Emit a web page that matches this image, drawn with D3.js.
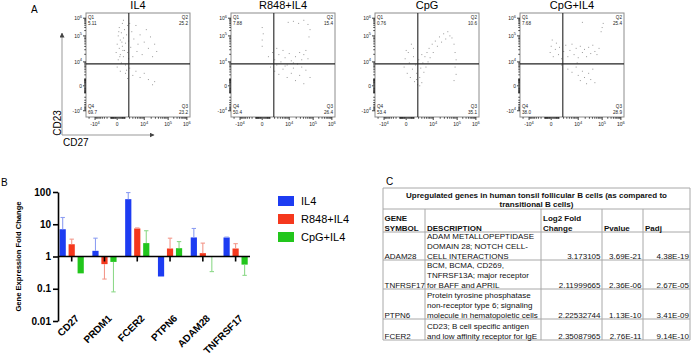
<!DOCTYPE html>
<html><head><meta charset="utf-8">
<script src="https://cdn.jsdelivr.net/npm/d3@7"></script>
<style>body{margin:0;background:#fff}svg{display:block;font-family:"Liberation Sans",Arial,sans-serif}</style>
</head><body><svg id="c" width="691" height="358"></svg>
<script>
// ---------------- Panel A data ----------------
const flowTitles = ["IL4", "R848+IL4", "CpG", "CpG+IL4"];
const quadQ1 = ["5.11", "7.88", "0.76", "7.68"];
const quadQ2 = ["25.2", "15.4", "10.6", "25.4"];
const quadQ3 = ["23.2", "26.4", "35.1", "28.9"];
const quadQ4 = ["69.7", "50.4", "53.4", "38.0"];
const flowTickValues = [-1e4, 0, 1e4, 1e5, 1e6];
const flowTickLabels = [["-10", "4"], ["0", ""], ["10", "4"], ["10", "5"], ["10", "6"]];
const gateCD27 = 1800;
const gateCD23 = 8000;
// events as display channel values (0-1000), [CD27, CD23]
const il4Events = [[290,620],[300,700],[310,550],[310,780],[320,660],[320,860],[330,600],[330,740],[340,520],[340,810],[350,680],[350,900],[360,580],[360,760],[370,640],[370,840],[380,500],[380,710],[390,790],[390,450],[400,620],[400,880],[410,560],[410,730],[430,670],[440,820],[450,580],[460,750],[480,880],[490,630],[500,700],[520,790],[540,600],[560,720],[580,840],[600,660],[620,770],[640,580],[660,700],[680,630],[380,420],[400,370],[420,470],[450,400],[480,440],[520,380],[560,420],[600,360],[640,310],[660,340],[300,480],[330,440],[360,930],[420,900],[315,820],[345,720],[325,580],[355,640]];
const r848Events = [[300,680],[300,740],[310,800],[300,860],[550,910],[600,920],[650,900],[700,930],[740,890],[760,840],[750,770],[360,580],[400,620],[420,550],[440,660],[460,600],[480,530],[500,640],[520,570],[540,500],[560,610],[580,540],[600,470],[620,580],[640,510],[660,620],[680,550],[700,600],[720,640],[740,560],[380,480],[420,440],[460,410],[500,460],[540,380],[580,420],[620,350],[660,400],[700,320],[720,450],[760,380],[440,500],[520,490],[600,520],[680,480]];
const cpgEvents = [[280,480],[290,560],[310,420],[320,620],[330,520],[340,380],[360,460],[370,580],[380,340],[390,500],[400,420],[410,310],[420,550],[430,380],[440,470],[450,330],[460,520],[470,430],[480,580],[490,480],[500,620],[510,530],[520,660],[530,570],[550,700],[560,620],[580,730],[600,680],[620,770],[640,720],[660,800],[680,750],[700,820],[720,780],[740,760],[760,700],[770,620],[780,550],[770,480],[780,410],[760,350],[350,700],[370,660],[300,640],[450,600],[400,360],[430,300]];
const cpgIl4Events = [[290,620],[300,680],[310,740],[320,580],[340,650],[350,710],[370,600],[380,670],[400,560],[420,630],[440,690],[460,580],[480,640],[500,700],[520,600],[540,660],[560,570],[580,680],[600,620],[620,650],[640,580],[660,670],[680,610],[700,690],[720,630],[740,600],[760,660],[780,820],[790,860],[800,900],[600,910],[400,500],[460,460],[500,430],[540,480],[560,400],[580,350],[600,440],[620,380],[640,320],[660,420],[680,360],[700,460],[720,330],[550,520]];
const flowEvents = [il4Events, r848Events, cpgEvents, cpgIl4Events];

// ---------------- Panel B data ----------------
const genes = ["CD27", "PRDM1", "FCER2", "PTPN6", "ADAM28", "TNFRSF17"];
const treatments = ["IL4", "R848+IL4", "CpG+IL4"];
const il4Fold    = [7.0, 1.5, 60, 0.24, 3.9, 3.9];
const il4ErrEnd  = [16.2, 3.7, 96, 0.24, 7.4, 4.0];
const r848Fold   = [2.4, 0.58, 7.4, 1.77, 1.27, 1.77];
const r848ErrEnd = [3.45, 0.2, 7.7, 3.7, 2.6, 2.5];
const cpgFold    = [0.30, 0.68, 2.6, 1.81, 0.98, 0.56];
const cpgErrEnd  = [0.30, 0.08, 6.3, 2.9, 0.34, 0.26];
const foldTicks = [0.01, 0.1, 1, 10, 100];
const foldTickLabels = ["0.01", "0.1", "1", "10", "100"];

// ---------------- Panel C data ----------------
const tableTitle = ["Upregulated genes in human tonsil follicular B cells (as compared to", "transitional B cells)"];
const colHeaders = [["GENE", "SYMBOL"], ["", "DESCRIPTION"], ["Log2 Fold", "Change"], ["", "Pvalue"], ["", "Padj"]];
const geneSymbols = ["ADAM28", "TNFRSF17", "PTPN6", "FCER2"];
const descriptions = [
  ["ADAM METALLOPEPTIDASE", "DOMAIN 28; NOTCH CELL-", "CELL INTERACTIONS"],
  ["BCM, BCMA, CD269,", "TNFRSF13A; major receptor", "for BAFF and APRIL"],
  ["Protein tyrosine phosphatase", "non-receptor type 6; signaling", "molecule in hematopoietic cells"],
  ["CD23; B cell specific antigen", "and low affinity receptor for IgE"]
];
const log2FC = ["3.173105", "2.11999665", "2.22532744", "2.35087965"];
const pValues = ["3.69E-21", "2.36E-06", "1.13E-10", "2.76E-11"];
const pAdj = ["4.38E-19", "2.67E-05", "3.41E-09", "9.14E-10"];

// =====================================================
const svg = d3.select("#c");

// ---------- Panel A ----------
svg.append("text").attr("x", 31).attr("y", 13).attr("font-size", 10).text("A");
const u = v => Math.sign(v) * Math.log1p(Math.abs(v) / 1000);
const chanX = d3.scaleLinear().domain(flowTickValues.map(u)).range([87, 300, 560, 790, 970]);
const chanY = d3.scaleLinear().domain(flowTickValues.map(u)).range([60, 300, 530, 780, 950]);
const minorVals = [];
for (let k = 1; k <= 9; k++) { minorVals.push(k * 100, -k * 100, k * 1000, -k * 1000); }
for (let k = 2; k <= 9; k++) { minorVals.push(k * 1e4, k * 1e5); }
minorVals.push(-2e4);

const plotLefts = [86, 231, 375, 520];
const pTop = 13, pW = 104, pH = 104;
flowTitles.forEach((title, i) => {
  const L = plotLefts[i];
  const g = svg.append("g");
  const px = d3.scaleLinear().domain([0, 1000]).range([L, L + pW]);
  const py = d3.scaleLinear().domain([0, 1000]).range([pTop + pH, pTop]);
  const fx = v => px(chanX(u(v)));
  const fy = v => py(chanY(u(v)));
  g.append("text").attr("x", L + pW / 2).attr("y", 9).attr("text-anchor", "middle")
    .attr("font-size", 11).text(title);
  g.selectAll("rect.ev").data(flowEvents[i]).join("rect").attr("class", "ev")
    .attr("x", d => px(d[0]) - 0.5).attr("y", d => py(d[1]) - 0.5)
    .attr("width", 1).attr("height", 1).attr("fill", "#9a9a9a");
  g.append("rect").attr("x", L).attr("y", pTop).attr("width", pW).attr("height", pH)
    .attr("fill", "none").attr("stroke", "#8c8c8c").attr("stroke-width", 1);
  g.append("line").attr("x1", fx(gateCD27)).attr("x2", fx(gateCD27)).attr("y1", pTop).attr("y2", pTop + pH)
    .attr("stroke", "#222").attr("stroke-width", 1.1);
  g.append("line").attr("x1", L).attr("x2", L + pW).attr("y1", fy(gateCD23)).attr("y2", fy(gateCD23))
    .attr("stroke", "#222").attr("stroke-width", 1.1);
  const B = pTop + pH;
  minorVals.forEach(v => {
    const xx = fx(v), yy = fy(v);
    if (xx >= L && xx <= L + pW) g.append("line").attr("x1", xx).attr("x2", xx).attr("y1", B).attr("y2", B + 1.8).attr("stroke", "#111").attr("stroke-width", 0.7);
    if (yy >= pTop && yy <= B) g.append("line").attr("y1", yy).attr("y2", yy).attr("x1", L).attr("x2", L - 1.8).attr("stroke", "#111").attr("stroke-width", 0.7);
  });
  flowTickValues.forEach((v, j) => {
    const xx = fx(v), yy = fy(v);
    g.append("line").attr("x1", xx).attr("x2", xx).attr("y1", B).attr("y2", B + 3).attr("stroke", "#111").attr("stroke-width", 0.8);
    g.append("line").attr("y1", yy).attr("y2", yy).attr("x1", L).attr("x2", L - 3).attr("stroke", "#111").attr("stroke-width", 0.8);
    const lab = flowTickLabels[j];
    const tx = g.append("text").attr("x", xx).attr("y", B + 9).attr("text-anchor", "middle").attr("font-size", 5).attr("fill", "#222");
    tx.append("tspan").text(lab[0]);
    if (lab[1]) tx.append("tspan").attr("dy", -2.5).attr("font-size", 4).text(lab[1]);
    const ty = g.append("text").attr("x", L - 4).attr("y", yy + 1.8).attr("text-anchor", "end").attr("font-size", 5).attr("fill", "#222");
    ty.append("tspan").text(lab[0]);
    if (lab[1]) ty.append("tspan").attr("dy", -2.5).attr("font-size", 4).text(lab[1]);
  });
  const qs = 4.6;
  g.append("text").attr("x", L + 2).attr("y", pTop + 6).attr("font-size", qs).attr("fill", "#222").text("Q1");
  g.append("text").attr("x", L + 2).attr("y", pTop + 12).attr("font-size", qs).attr("fill", "#222").text(quadQ1[i]);
  g.append("text").attr("x", L + pW - 2).attr("y", pTop + 6).attr("text-anchor", "end").attr("font-size", qs).attr("fill", "#222").text("Q2");
  g.append("text").attr("x", L + pW - 2).attr("y", pTop + 12).attr("text-anchor", "end").attr("font-size", qs).attr("fill", "#222").text(quadQ2[i]);
  g.append("text").attr("x", L + 2).attr("y", B - 9).attr("font-size", qs).attr("fill", "#222").text("Q4");
  g.append("text").attr("x", L + 2).attr("y", B - 3.5).attr("font-size", qs).attr("fill", "#222").text(quadQ4[i]);
  g.append("text").attr("x", L + pW - 2).attr("y", B - 9).attr("text-anchor", "end").attr("font-size", qs).attr("fill", "#222").text("Q3");
  g.append("text").attr("x", L + pW - 2).attr("y", B - 3.5).attr("text-anchor", "end").attr("font-size", qs).attr("fill", "#222").text(quadQ3[i]);
});
svg.append("defs").append("marker").attr("id", "ah").attr("viewBox", "0 0 10 10").attr("refX", 9).attr("refY", 5)
  .attr("markerWidth", 5).attr("markerHeight", 5).attr("orient", "auto")
  .append("path").attr("d", "M0,0L10,5L0,10z").attr("fill", "#444");
svg.append("line").attr("x1", 62).attr("y1", 135).attr("x2", 62).attr("y2", 33).attr("stroke", "#999").attr("stroke-width", 1).attr("marker-end", "url(#ah)");
svg.append("line").attr("x1", 62).attr("y1", 135).attr("x2", 154).attr("y2", 135).attr("stroke", "#999").attr("stroke-width", 1).attr("marker-end", "url(#ah)");
svg.append("text").attr("transform", "translate(60.5,123) rotate(-90)").attr("text-anchor", "middle").attr("font-size", 10).text("CD23");
svg.append("text").attr("x", 63).attr("y", 146).attr("font-size", 10).text("CD27");

// ---------- Panel B ----------
svg.append("text").attr("x", 1).attr("y", 186).attr("font-size", 10).text("B");
const colors = ["#1d3cf2", "#f5381d", "#22c61c"];
const errColors = ["#8d9ef2", "#f3988b", "#8ed98a"];
const yB = d3.scaleLog().domain([0.01, 100]).range([321, 192]);
const xB = d3.scaleBand().domain(genes).range([55.3, 252]);
const xInner = d3.scaleBand().domain(treatments).range([-13.5, 13.5]);
const folds = [il4Fold, r848Fold, cpgFold];
const errs = [il4ErrEnd, r848ErrEnd, cpgErrEnd];
const gB = svg.append("g");
const barW = 6.2;
treatments.forEach((t, s) => {
  genes.forEach((gene, i) => {
    const cx = xB(gene) + xB.bandwidth() / 2 + xInner(t) + xInner.bandwidth() / 2;
    const v = folds[s][i], e = errs[s][i];
    const y0 = yB(1), y1 = yB(v);
    if (Math.abs(y1 - y0) > 0.3)
      gB.append("rect").attr("x", cx - barW / 2).attr("y", Math.min(y0, y1)).attr("width", barW).attr("height", Math.abs(y1 - y0)).attr("fill", colors[s]);
    if (e !== v) {
      gB.append("line").attr("x1", cx).attr("x2", cx).attr("y1", y1).attr("y2", yB(e)).attr("stroke", errColors[s]).attr("stroke-width", 1.1);
      gB.append("line").attr("x1", cx - 2.2).attr("x2", cx + 2.2).attr("y1", yB(e)).attr("y2", yB(e)).attr("stroke", errColors[s]).attr("stroke-width", 1.1);
    }
  });
});
const yAx = svg.append("g").attr("transform", "translate(58,0)")
  .call(d3.axisLeft(yB).tickValues(foldTicks).tickFormat((d, i) => foldTickLabels[i]).tickSize(5).tickSizeOuter(0).tickPadding(2));
yAx.select(".domain").attr("stroke-width", 1.6);
yAx.selectAll(".tick line").attr("stroke-width", 1.6);
yAx.selectAll(".tick text").attr("font-size", 10).attr("font-weight", "bold").attr("font-family", '"Liberation Sans",Arial,sans-serif').attr("fill", "#000");
svg.append("line").attr("x1", 58).attr("x2", 250).attr("y1", yB(1)).attr("y2", yB(1)).attr("stroke", "#000").attr("stroke-width", 1.6);
genes.forEach(gene => {
  const cx = xB(gene) + xB.bandwidth() / 2;
  svg.append("line").attr("x1", cx).attr("x2", cx).attr("y1", yB(1)).attr("y2", yB(1) + 5).attr("stroke", "#000").attr("stroke-width", 1.6);
  svg.append("text").attr("transform", `translate(${cx + 3},${314}) rotate(-45)`).attr("text-anchor", "end")
    .attr("dy", "0.7em").attr("font-size", 10).attr("font-weight", "bold").text(gene);
});
svg.append("text").attr("transform", `translate(21,${yB(1)}) rotate(-90)`).attr("text-anchor", "middle")
  .attr("font-size", 7.6).attr("font-weight", "bold").text("Gene Expression Fold Change");
treatments.forEach((t, s) => {
  const ly = 196 + s * 18;
  svg.append("rect").attr("x", 278).attr("y", ly).attr("width", 16).attr("height", 10).attr("fill", colors[s]);
  svg.append("text").attr("x", 301).attr("y", ly + 9).attr("font-size", 11).text(t);
});

// ---------- Panel C ----------
svg.append("text").attr("x", 386).attr("y", 185).attr("font-size", 10).text("C");
const colX = [383, 425, 541, 602, 643, 690];
const rowY = [188, 209, 232, 260, 289, 319, 340];
const gC = svg.append("g").attr("font-size", 8).attr("fill", "#111");
const bc = "#a8a8a8";
rowY.forEach(y => gC.append("line").attr("x1", colX[0]).attr("x2", colX[5]).attr("y1", y).attr("y2", y).attr("stroke", bc));
colX.forEach((x, j) => gC.append("line").attr("x1", x).attr("x2", x).attr("y1", (j === 0 || j === 5) ? rowY[0] : rowY[1]).attr("y2", rowY[6]).attr("stroke", bc));
tableTitle.forEach((t, k) => gC.append("text").attr("x", (colX[0] + colX[5]) / 2).attr("y", 197.5 + k * 9.7)
  .attr("text-anchor", "middle").attr("font-weight", "bold").text(t));
const textLeft = [384.5, 427, 543, 604, 645];
colHeaders.forEach((h, j) => {
  h.forEach((t, k) => { if (t) gC.append("text").attr("x", textLeft[j]).attr("y", 221 + k * 9.7).attr("font-weight", "bold").text(t); });
});
const rightX = [null, null, 600.5, 641.5, 689];
geneSymbols.forEach((gs, r) => {
  const base = rowY[r + 3] - 1.2;
  gC.append("text").attr("x", textLeft[0]).attr("y", base).text(gs);
  const lines = descriptions[r];
  lines.forEach((t, k) => gC.append("text").attr("x", textLeft[1]).attr("y", base - (lines.length - 1 - k) * 9.7).text(t));
  gC.append("text").attr("x", rightX[2]).attr("y", base).attr("text-anchor", "end").text(log2FC[r]);
  gC.append("text").attr("x", rightX[3]).attr("y", base).attr("text-anchor", "end").text(pValues[r]);
  gC.append("text").attr("x", rightX[4]).attr("y", base).attr("text-anchor", "end").text(pAdj[r]);
});
</script></body></html>
